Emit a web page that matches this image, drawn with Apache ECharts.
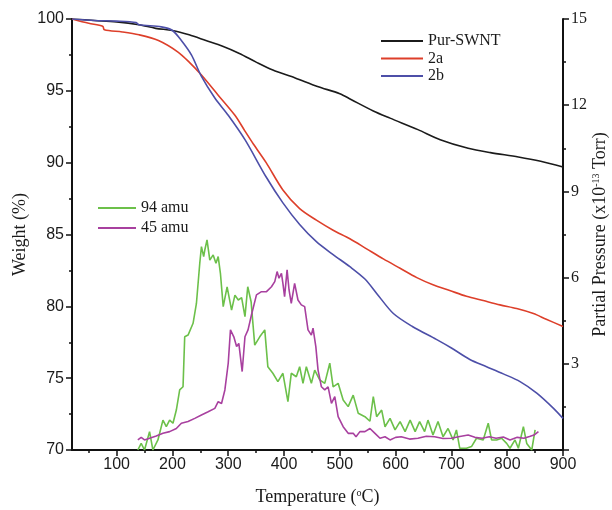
<!DOCTYPE html>
<html><head><meta charset="utf-8">
<script src="https://cdn.jsdelivr.net/npm/echarts@6/dist/echarts.min.js"></script>
<style>html,body{margin:0;padding:0;background:#fff}#c{width:612px;height:510px}</style>
</head><body><div id="c"></div>
<script>
// Temperature (°C) ticks
const xTicks = [100, 200, 300, 400, 500, 600, 700, 800, 900];
const xMinorTicks = [50, 150, 250, 350, 450, 550, 650, 750, 850];

// Weight (%) curves: [temperature, weight]
const pureSWNT = [[20,100],[60,99.9],[100,99.8],[140,99.6],[170,99.35],[200,99.2],[230,98.9],[260,98.5],[290,98.1],[320,97.6],[350,97.0],[380,96.45],[420,95.9],[460,95.3],[500,94.8],[520,94.4],[560,93.6],[590,93.1],[640,92.3],[680,91.6],[730,91.0],[770,90.7],[820,90.4],[860,90.1],[900,89.7]];
const s2a = [[20,100],[50,99.7],[75,99.5],[78,99.25],[110,99.1],[140,98.9],[175,98.5],[210,97.7],[230,97.0],[252,96.1],[282,94.7],[312,93.3],[330,92.2],[345,91.3],[368,90.0],[398,88.1],[428,86.8],[458,86.0],[488,85.3],[518,84.7],[548,84.0],[578,83.3],[608,82.65],[638,82.0],[667,81.5],[697,81.1],[727,80.7],[757,80.4],[787,80.1],[817,79.85],[847,79.5],[870,79.1],[900,78.6]];
const s2b = [[20,100],[60,99.9],[100,99.85],[135,99.75],[140,99.6],[180,99.45],[200,99.2],[216,98.5],[234,97.5],[252,96.0],[276,94.5],[300,93.3],[330,91.6],[368,89.0],[398,87.2],[428,85.7],[458,84.5],[488,83.6],[518,82.76],[545,81.9],[566,80.9],[596,79.5],[630,78.6],[673,77.7],[700,77.1],[733,76.3],[763,75.8],[793,75.3],[823,74.76],[853,73.96],[883,72.9],[900,72.2]];

// Partial pressure (x10^-13 Torr): [temperature, pressure]
const amu94 = [[138,0.0],[144,0.23],[150,0.0],[159,0.64],[165,0.0],[174,0.35],[183,1.04],[189,0.81],[195,1.04],[201,0.93],[207,1.39],[213,2.09],[219,2.2],[222,3.94],[228,4.0],[237,4.41],[243,5.1],[249,6.5],[252,7.08],[256,6.73],[258,6.96],[262,7.31],[267,6.61],[273,6.79],[278,6.5],[282,6.73],[286,6.15],[291,4.99],[298,5.68],[306,4.87],[312,5.39],[318,5.22],[324,5.3],[330,4.64],[335,5.68],[341,5.16],[347.5,3.65],[356.5,3.94],[365.5,4.18],[371,2.9],[380,2.67],[389,2.38],[398,2.67],[407,1.68],[413,2.67],[422,2.55],[428,2.9],[434,2.32],[440,2.9],[449,2.32],[455,2.78],[464,2.44],[473,2.32],[482,3.02],[488,2.2],[497,2.32],[506,1.74],[515,1.51],[524,1.91],[533,1.28],[545,1.16],[554,1.0],[560,1.86],[566,1.16],[575,1.39],[581,0.81],[590,1.1],[599,0.7],[608,0.99],[617,0.64],[626,1.04],[635,0.64],[643,0.99],[652,0.64],[658,1.04],[667,0.52],[676,0.99],[685,0.46],[694,0.75],[703,0.35],[709,0.7],[715,0.06],[727,0.06],[736,0.12],[745,0.41],[757,0.35],[766,0.93],[772,0.35],[781,0.35],[790,0.41],[799,0.23],[805,0.06],[814,0.35],[820,0.06],[829,0.81],[835,0.23],[844,0.0],[850,0.7]];
const amu45 = [[138,0.35],[144,0.44],[150,0.35],[159,0.41],[171,0.49],[183,0.58],[195,0.64],[207,0.75],[216,0.93],[228,0.99],[240,1.1],[252,1.22],[264,1.33],[276,1.45],[282,1.68],[288,1.62],[294,2.09],[300,3.02],[304,4.18],[310,3.94],[315,3.6],[319,3.71],[325,2.73],[330,3.94],[335.5,4.18],[341.6,4.7],[350.6,5.4],[359.6,5.51],[368.6,5.51],[377.5,5.68],[383.4,5.86],[387.6,6.21],[391,5.98],[395.4,6.15],[398,5.8],[401,5.34],[405.5,6.27],[409,5.57],[413,5.1],[419,5.8],[425,5.22],[431,5.05],[437,4.99],[443,4.18],[449,4.0],[452,4.24],[457,3.6],[461,2.78],[467,2.2],[473,2.09],[479,2.2],[485,1.62],[491,1.86],[497,1.16],[506,0.81],[515,0.58],[524,0.58],[529,0.46],[536,0.64],[545,0.64],[554,0.75],[563,0.58],[572,0.41],[581,0.46],[590,0.35],[600,0.44],[610,0.46],[625,0.38],[640,0.41],[655,0.48],[670,0.46],[685,0.4],[700,0.41],[715,0.47],[730,0.52],[742,0.44],[755,0.41],[768,0.46],[780,0.41],[793,0.45],[805,0.35],[818,0.44],[830,0.41],[840,0.47],[848,0.52],[856,0.64]];

const serif = 'Liberation Serif';
const sans = 'Liberation Sans';
const axisColor = '#111';
const textColor = '#1a1a1a';

const chart = echarts.init(document.getElementById('c'));
chart.setOption({
  animation: false,
  backgroundColor: '#fff',
  grid: { left: 72, right: 49, top: 19, bottom: 60, containLabel: false, outerBoundsMode: 'none' },
  legend: [
    { data: ['Pur-SWNT', '2a', '2b'], orient: 'vertical', left: 376, top: 28, icon: 'rect',
      itemWidth: 42, itemHeight: 2, itemGap: 1.5, selectedMode: false,
      textStyle: { fontFamily: serif, fontSize: 16, color: textColor, lineHeight: 16 } },
    { data: ['94 amu', '45 amu'], orient: 'vertical', left: 93, top: 195, icon: 'rect',
      itemWidth: 38, itemHeight: 2, itemGap: 4, selectedMode: false,
      textStyle: { fontFamily: serif, fontSize: 16, color: textColor, lineHeight: 16 } }
  ],
  xAxis: [
    { type: 'value', min: 20, max: 900, position: 'bottom',
      name: '{n|Temperature (}{sup|o}{n|C)}', nameLocation: 'middle', nameGap: 38, nameMoveOverlap: false,
      nameTextStyle: { rich: { n: { fontFamily: serif, fontSize: 18, color: textColor }, sup: { fontFamily: serif, fontSize: 10, color: textColor, verticalAlign: 'top' } } },
      axisLine: { show: true, lineStyle: { color: axisColor, width: 2 } },
      axisTick: { show: true, customValues: xTicks, length: 6, lineStyle: { color: axisColor, width: 1.5 } },
      axisLabel: { customValues: xTicks, fontFamily: sans, fontSize: 16, color: textColor, margin: 7 },
      splitLine: { show: false } },
    { type: 'value', min: 20, max: 900, position: 'bottom',
      axisLine: { show: false },
      axisTick: { show: true, customValues: xMinorTicks, length: 3, lineStyle: { color: axisColor, width: 1.5 } },
      axisLabel: { show: false }, splitLine: { show: false } }
  ],
  yAxis: [
    { type: 'value', min: 70, max: 100, interval: 5, position: 'left',
      name: 'Weight (%)', nameLocation: 'middle', nameGap: 43, nameRotate: 90, nameMoveOverlap: false,
      nameTextStyle: { fontFamily: serif, fontSize: 18, color: textColor },
      axisLine: { show: true, lineStyle: { color: axisColor, width: 2 } },
      axisTick: { show: true, length: 6, lineStyle: { color: axisColor, width: 1.5 } },
      minorTick: { show: true, splitNumber: 2, length: 3, lineStyle: { color: axisColor, width: 1.5 } },
      axisLabel: { fontFamily: sans, fontSize: 16, color: textColor, margin: 8 },
      splitLine: { show: false } },
    { type: 'value', min: 0, max: 15, interval: 3, position: 'right',
      name: '{n|Partial Pressure (x10}{sup|-13}{n| Torr)}', nameLocation: 'middle', nameGap: 28, nameRotate: 90, nameMoveOverlap: false,
      nameTextStyle: { rich: { n: { fontFamily: serif, fontSize: 18, color: textColor }, sup: { fontFamily: serif, fontSize: 10, color: textColor, verticalAlign: 'top' } } },
      axisLine: { show: true, lineStyle: { color: axisColor, width: 2 } },
      axisTick: { show: true, length: 6, lineStyle: { color: axisColor, width: 1.5 } },
      minorTick: { show: true, splitNumber: 2, length: 3, lineStyle: { color: axisColor, width: 1.5 } },
      axisLabel: { fontFamily: serif, fontSize: 16, color: textColor, margin: 8, showMinLabel: false },
      splitLine: { show: false } }
  ],
  series: [
    { name: 'Pur-SWNT', type: 'line', data: pureSWNT, xAxisIndex: 0, yAxisIndex: 0, symbol: 'none', smooth: 0.3, lineStyle: { color: '#1b1b1b', width: 1.6 }, itemStyle: { color: '#1b1b1b' } },
    { name: '2a', type: 'line', data: s2a, xAxisIndex: 0, yAxisIndex: 0, symbol: 'none', smooth: 0.3, lineStyle: { color: '#dd3f2a', width: 1.6 }, itemStyle: { color: '#dd3f2a' } },
    { name: '2b', type: 'line', data: s2b, xAxisIndex: 0, yAxisIndex: 0, symbol: 'none', smooth: 0.3, lineStyle: { color: '#4d4fa8', width: 1.6 }, itemStyle: { color: '#4d4fa8' } },
    { name: '94 amu', type: 'line', data: amu94, xAxisIndex: 0, yAxisIndex: 1, symbol: 'none', lineStyle: { color: '#6cc04a', width: 1.6 }, itemStyle: { color: '#6cc04a' } },
    { name: '45 amu', type: 'line', data: amu45, xAxisIndex: 0, yAxisIndex: 1, symbol: 'none', lineStyle: { color: '#a8409f', width: 1.6 }, itemStyle: { color: '#a8409f' } }
  ]
});
</script>
</body></html>
